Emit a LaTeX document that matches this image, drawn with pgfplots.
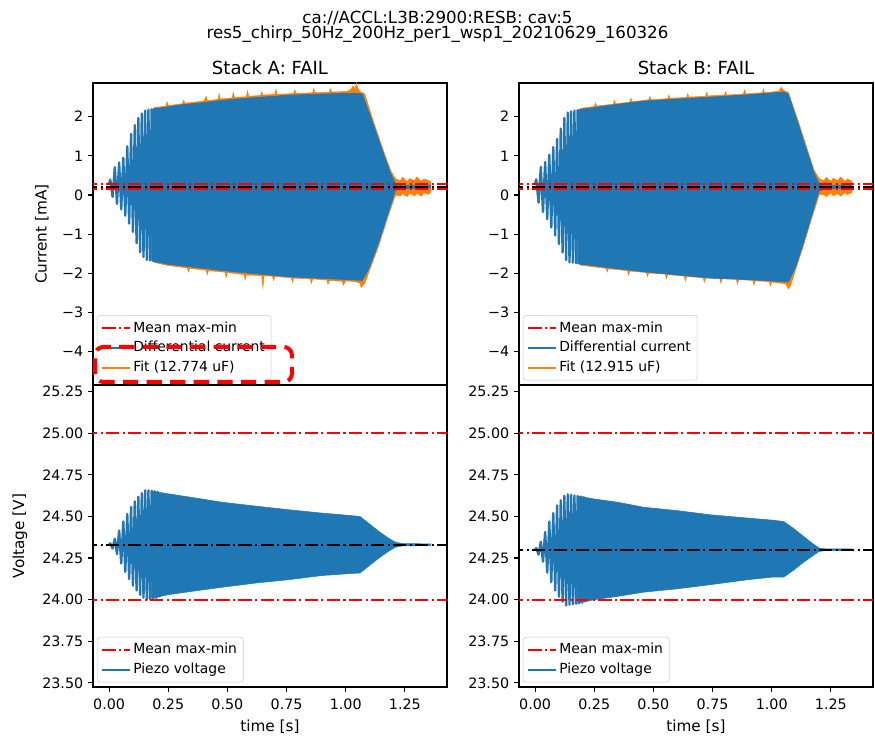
\documentclass[border=0pt]{standalone}
\usepackage{fontspec}
\setmainfont{DejaVu Sans}
\usepackage{pgfplots}
\pgfplotsset{compat=1.18}
\definecolor{tabblue}{HTML}{1F77B4}
\definecolor{taborange}{HTML}{FF7F0E}
\tikzset{meanline/.style={line width=1.5pt, dash pattern=on 9.6pt off 2.4pt on 1.5pt off 2.4pt}}
\pgfplotsset{
  base/.style={
    scale only axis, width=254.9pt, height=217.44pt,
    xmin=-0.068, xmax=1.428,
    axis line style={line width=0.8pt},
    every tick/.style={black, line width=0.8pt},
    tick align=outside, major tick length=3.5pt, tick pos=left,
    tick label style={font=\fontsize{10.3}{12}\selectfont},
    xticklabel style={yshift=-1.5pt},
    /pgf/number format/assume math mode=true,
    legend cell align=left,
    legend style={draw=black!20, rounded corners=2pt, fill=white, fill opacity=0.8, text opacity=1,
      font=\fontsize{10}{12}\selectfont, inner sep=3pt, row sep=2.2pt, nodes={inner sep=1.5pt},
      at={(0.011,0.015)}, anchor=south west},
    legend image code/.code={\draw[##1] (0pt,0pt) -- (20pt,0pt);},
  },
  curax/.style={base, ymin=-4.85, ymax=2.86, ytick={-4,-3,-2,-1,0,1,2},
    yticklabels={−4,−3,−2,−1,0,1,2}, xtick=\empty},
  volax/.style={base, ymin=23.475, ymax=25.29, ytick={23.5,23.75,24,24.25,24.5,24.75,25,25.25},
    yticklabels={23.50,23.75,24.00,24.25,24.50,24.75,25.00,25.25},
    xtick={0,0.25,0.5,0.75,1,1.25}, xticklabels={0.00,0.25,0.50,0.75,1.00,1.25}},
  zig/.style={tabblue, line width=1.7pt, line join=round, forget plot},
}
\begin{document}
\begin{tikzpicture}
\useasboundingbox (0,0) rectangle (630pt,529.92pt);
% ---------------- Stack A current
\begin{axis}[curax, at={(66.96pt,252.72pt)}, anchor=south west]
\addplot[taborange, fill=taborange, line width=0.4pt, forget plot] coordinates {
(0.19,2.23)(0.24,2.27)(0.245,2.38)(0.25,2.28)(0.31,2.33)(0.315,2.42)(0.32,2.34)(0.40,2.40)(0.41,2.52)(0.415,2.41)(0.46,2.44)(0.465,2.58)(0.47,2.45)(0.52,2.48)(0.525,2.62)(0.53,2.49)(0.58,2.51)(0.585,2.66)(0.59,2.52)(0.64,2.54)(0.645,2.63)(0.65,2.55)(0.70,2.57)(0.705,2.70)(0.71,2.57)(0.78,2.59)(0.785,2.68)(0.79,2.59)(0.86,2.61)(0.865,2.72)(0.87,2.61)(0.93,2.62)(0.935,2.71)(0.94,2.63)(1.00,2.64)(1.02,2.68)(1.03,2.78)(1.04,2.72)(1.045,2.86)(1.05,2.74)(1.06,2.64)(1.08,2.58)(1.12,1.82)(1.16,1.12)(1.19,0.62)(1.21,0.42)(1.23,0.36)(1.24,0.45)(1.26,0.34)(1.27,0.42)(1.29,0.36)(1.30,0.46)(1.32,0.35)(1.33,0.41)(1.35,0.37)(1.36,0.33)
(1.36,0.08)(1.35,0.02)(1.33,0.06)(1.32,-0.03)(1.30,0.04)(1.29,-0.02)(1.27,0.05)(1.26,-0.04)(1.24,0.03)(1.23,-0.02)(1.21,0.0)(1.18,-0.52)(1.14,-1.28)(1.10,-1.93)(1.08,-2.26)(1.065,-2.36)(1.06,-2.25)(1.04,-2.21)(1.00,-2.19)(0.99,-2.30)(0.985,-2.20)(0.93,-2.18)(0.925,-2.28)(0.92,-2.17)(0.86,-2.14)(0.855,-2.26)(0.85,-2.14)(0.78,-2.12)(0.775,-2.22)(0.77,-2.11)(0.70,-2.08)(0.695,-2.18)(0.69,-2.07)(0.655,-2.06)(0.65,-2.36)(0.645,-2.06)(0.58,-2.04)(0.575,-2.16)(0.57,-2.03)(0.50,-1.98)(0.495,-2.10)(0.49,-1.97)(0.42,-1.93)(0.415,-2.03)(0.41,-1.92)(0.34,-1.87)(0.335,-1.96)(0.33,-1.86)(0.25,-1.80)(0.19,-1.72)} -- cycle;
\addplot[tabblue, fill=tabblue, line width=0.4pt, forget plot] coordinates {
(0.18,2.19)(0.30,2.30)(0.40,2.36)(0.48,2.42)(0.60,2.48)(0.76,2.55)(0.90,2.58)(1.04,2.60)(1.07,2.58)(1.12,1.75)(1.16,1.05)(1.19,0.55)(1.21,0.30)(1.23,0.25)(1.30,0.24)(1.36,0.24)
(1.36,0.18)(1.30,0.17)(1.23,0.16)(1.21,0.12)(1.18,-0.45)(1.14,-1.20)(1.10,-1.85)(1.07,-2.18)(1.04,-2.17)(0.90,-2.13)(0.76,-2.09)(0.60,-2.00)(0.48,-1.93)(0.34,-1.83)(0.25,-1.77)(0.18,-1.68)} -- cycle;
\addplot[zig] coordinates {
(0.0000,0.30)(0.0050,0.393)(0.0147,-0.046)(0.0242,0.711)(0.0334,-0.227)(0.0425,0.833)(0.0513,-0.368)(0.0600,0.950)(0.0684,-0.526)(0.0768,1.242)(0.0849,-0.729)(0.0929,1.559)(0.1008,-0.943)(0.1085,1.785)(0.1161,-1.232)(0.1236,1.964)(0.1310,-1.460)(0.1382,2.083)(0.1454,-1.580)(0.1525,2.157)(0.1594,-1.657)(0.1663,2.180)(0.1731,-1.672)(0.1798,2.192)(0.1864,-1.685)(0.1929,2.204)(0.1994,-1.697)(0.2057,2.215)(0.2121,-1.709)};
\addplot[red, meanline, forget plot] coordinates {(-0.2,0.28)(1.6,0.28)};
\addplot[red, meanline, forget plot] coordinates {(-0.2,0.145)(1.6,0.145)};
\addplot[black, meanline, forget plot] coordinates {(-0.2,0.21)(1.6,0.21)};
\addlegendimage{red, meanline}\addlegendentry{Mean max-min}
\addlegendimage{tabblue, line width=1.5pt}\addlegendentry{Differential current}
\addlegendimage{taborange, line width=1.5pt}\addlegendentry{Fit (12.774 uF)}
\end{axis}
% ---------------- Stack B current
\begin{axis}[curax, at={(373.68pt,252.72pt)}, anchor=south west]
\addplot[taborange, fill=taborange, line width=0.4pt, forget plot] coordinates {
(0.19,2.21)(0.25,2.26)(0.255,2.35)(0.26,2.27)(0.33,2.32)(0.335,2.41)(0.34,2.33)(0.40,2.37)(0.405,2.47)(0.41,2.38)(0.48,2.43)(0.485,2.52)(0.49,2.43)(0.56,2.46)(0.565,2.55)(0.57,2.47)(0.64,2.49)(0.645,2.58)(0.65,2.50)(0.72,2.52)(0.725,2.62)(0.73,2.53)(0.80,2.55)(0.805,2.63)(0.81,2.55)(0.88,2.58)(0.885,2.68)(0.89,2.58)(0.96,2.61)(0.965,2.70)(0.97,2.61)(1.03,2.65)(1.04,2.75)(1.05,2.67)(1.07,2.62)(1.11,1.92)(1.15,1.17)(1.18,0.62)(1.20,0.42)(1.22,0.36)(1.23,0.45)(1.25,0.35)(1.26,0.43)(1.28,0.36)(1.29,0.46)(1.31,0.35)(1.32,0.41)(1.34,0.35)
(1.34,0.07)(1.32,0.01)(1.31,0.06)(1.29,-0.03)(1.28,0.04)(1.26,-0.02)(1.25,0.05)(1.23,-0.04)(1.22,0.02)(1.20,0.0)(1.17,-0.57)(1.13,-1.37)(1.10,-1.92)(1.08,-2.30)(1.07,-2.40)(1.06,-2.27)(1.00,-2.22)(0.995,-2.32)(0.99,-2.21)(0.93,-2.19)(0.925,-2.30)(0.92,-2.18)(0.86,-2.16)(0.855,-2.27)(0.85,-2.15)(0.79,-2.14)(0.785,-2.25)(0.78,-2.13)(0.72,-2.12)(0.715,-2.22)(0.71,-2.11)(0.64,-2.08)(0.635,-2.19)(0.63,-2.07)(0.56,-2.03)(0.555,-2.13)(0.55,-2.02)(0.48,-1.99)(0.475,-2.08)(0.47,-1.98)(0.40,-1.94)(0.395,-2.04)(0.39,-1.93)(0.31,-1.88)(0.305,-1.96)(0.30,-1.87)(0.19,-1.79)} -- cycle;
\addplot[tabblue, fill=tabblue, line width=0.4pt, forget plot] coordinates {
(0.18,2.17)(0.30,2.28)(0.46,2.40)(0.60,2.45)(0.74,2.50)(0.90,2.56)(1.05,2.63)(1.07,2.58)(1.11,1.85)(1.15,1.10)(1.18,0.55)(1.20,0.30)(1.22,0.25)(1.30,0.24)(1.34,0.24)
(1.34,0.18)(1.30,0.17)(1.22,0.16)(1.20,0.10)(1.17,-0.50)(1.13,-1.30)(1.10,-1.85)(1.07,-2.22)(0.90,-2.16)(0.74,-2.12)(0.60,-2.04)(0.46,-1.96)(0.30,-1.85)(0.18,-1.75)} -- cycle;
\addplot[zig] coordinates {
(0.0000,0.30)(0.0050,0.40)(0.0147,-0.194)(0.0242,0.72)(0.0334,-0.429)(0.0425,0.846)(0.0513,-0.616)(0.0600,1.03)(0.0684,-0.827)(0.0768,1.222)(0.0849,-1.032)(0.0929,1.433)(0.1008,-1.251)(0.1085,1.696)(0.1161,-1.467)(0.1236,1.967)(0.1310,-1.659)(0.1382,2.106)(0.1454,-1.719)(0.1525,2.135)(0.1594,-1.727)(0.1663,2.156)(0.1731,-1.742)(0.1798,2.168)(0.1864,-1.753)(0.1929,2.180)(0.1994,-1.764)(0.2057,2.192)(0.2121,-1.775)};
\addplot[red, meanline, forget plot] coordinates {(-0.2,0.28)(1.6,0.28)};
\addplot[red, meanline, forget plot] coordinates {(-0.2,0.145)(1.6,0.145)};
\addplot[black, meanline, forget plot] coordinates {(-0.2,0.20)(1.6,0.20)};
\addlegendimage{red, meanline}\addlegendentry{Mean max-min}
\addlegendimage{tabblue, line width=1.5pt}\addlegendentry{Differential current}
\addlegendimage{taborange, line width=1.5pt}\addlegendentry{Fit (12.915 uF)}
\end{axis}
% ---------------- Stack A voltage
\begin{axis}[volax, at={(66.96pt,35.28pt)}, anchor=south west]
\addplot[tabblue, fill=tabblue, line width=0.4pt, forget plot] coordinates {
(0.18,24.652)(0.25,24.636)(0.35,24.614)(0.48,24.585)(0.62,24.562)(0.76,24.540)(0.90,24.520)(1.00,24.508)(1.06,24.500)(1.10,24.455)(1.14,24.41)(1.18,24.37)(1.21,24.345)(1.24,24.337)(1.30,24.336)(1.36,24.335)
(1.36,24.325)(1.30,24.324)(1.24,24.323)(1.21,24.315)(1.18,24.29)(1.14,24.25)(1.10,24.205)(1.06,24.160)(1.00,24.155)(0.90,24.145)(0.76,24.120)(0.62,24.10)(0.48,24.075)(0.35,24.05)(0.25,24.03)(0.18,24.008)} -- cycle;
\addplot[zig] coordinates {
(0.0000,24.330)(0.0050,24.338)(0.0147,24.308)(0.0242,24.366)(0.0334,24.274)(0.0425,24.415)(0.0513,24.217)(0.0600,24.470)(0.0684,24.166)(0.0768,24.515)(0.0849,24.124)(0.0929,24.557)(0.1008,24.084)(0.1085,24.591)(0.1161,24.055)(0.1236,24.618)(0.1310,24.029)(0.1382,24.640)(0.1454,24.012)(0.1525,24.657)(0.1594,24.001)(0.1663,24.657)(0.1731,24.004)(0.1798,24.654)(0.1864,24.007)(0.1929,24.651)(0.1994,24.010)(0.2057,24.648)(0.2121,24.013)};
\addplot[red, meanline, forget plot] coordinates {(-0.2,25.0)(1.6,25.0)};
\addplot[red, meanline, forget plot] coordinates {(-0.2,24.0)(1.6,24.0)};
\addplot[black, meanline, forget plot] coordinates {(-0.2,24.33)(1.6,24.33)};
\addlegendimage{red, meanline}\addlegendentry{Mean max-min}
\addlegendimage{tabblue, line width=1.5pt}\addlegendentry{Piezo voltage}
\end{axis}
% ---------------- Stack B voltage
\begin{axis}[volax, at={(373.68pt,35.28pt)}, anchor=south west]
\addplot[tabblue, fill=tabblue, line width=0.4pt, forget plot] coordinates {
(0.18,24.622)(0.25,24.605)(0.35,24.585)(0.46,24.555)(0.60,24.535)(0.74,24.510)(0.90,24.490)(1.00,24.478)(1.05,24.470)(1.09,24.43)(1.13,24.385)(1.17,24.34)(1.20,24.31)(1.23,24.305)(1.30,24.305)(1.34,24.305)
(1.34,24.295)(1.30,24.295)(1.23,24.295)(1.20,24.29)(1.17,24.26)(1.13,24.22)(1.09,24.175)(1.05,24.135)(1.00,24.135)(0.90,24.12)(0.74,24.09)(0.60,24.065)(0.46,24.045)(0.35,24.02)(0.25,24.0)(0.18,23.978)} -- cycle;
\addplot[zig] coordinates {
(0.0000,24.300)(0.0050,24.310)(0.0147,24.271)(0.0242,24.348)(0.0334,24.228)(0.0425,24.406)(0.0513,24.162)(0.0600,24.470)(0.0684,24.105)(0.0768,24.520)(0.0849,24.055)(0.0929,24.566)(0.1008,24.018)(0.1085,24.597)(0.1161,23.988)(0.1236,24.624)(0.1310,23.965)(0.1382,24.633)(0.1454,23.969)(0.1525,24.630)(0.1594,23.972)(0.1663,24.626)(0.1731,23.975)(0.1798,24.623)(0.1864,23.978)(0.1929,24.620)(0.1994,23.982)(0.2057,24.617)(0.2121,23.985)};
\addplot[red, meanline, forget plot] coordinates {(-0.2,25.0)(1.6,25.0)};
\addplot[red, meanline, forget plot] coordinates {(-0.2,24.0)(1.6,24.0)};
\addplot[black, meanline, forget plot] coordinates {(-0.2,24.30)(1.6,24.30)};
\addlegendimage{red, meanline}\addlegendentry{Mean max-min}
\addlegendimage{tabblue, line width=1.5pt}\addlegendentry{Piezo voltage}
\end{axis}
% ---------------- texts
\node[font=\fontsize{12}{14}\selectfont] at (315pt,517pt) {ca://ACCL:L3B:2900:RESB: cav:5};
\node[font=\fontsize{12}{14}\selectfont] at (315pt,505pt) {res5\_chirp\_50Hz\_200Hz\_per1\_wsp1\_20210629\_160326};
\node[font=\fontsize{13}{15}\selectfont] at (194.4pt,481pt) {Stack A: FAIL};
\node[font=\fontsize{13}{15}\selectfont] at (501.1pt,481pt) {Stack B: FAIL};
\node[font=\fontsize{11}{13}\selectfont, rotate=90] at (30.2pt,361.4pt) {Current [mA]};
\node[font=\fontsize{11}{13}\selectfont, rotate=90] at (14.4pt,144pt) {Voltage [V]};
\node[font=\fontsize{11}{13}\selectfont] at (194.4pt,6.5pt) {time [s]};
\node[font=\fontsize{11}{13}\selectfont] at (501.1pt,6.5pt) {time [s]};
% annotation box
\draw[red, line width=2.9pt, dash pattern=on 11pt off 6pt, rounded corners=6pt] (68.4pt,254.9pt) rectangle (210.2pt,280.1pt);
\end{tikzpicture}
\end{document}
